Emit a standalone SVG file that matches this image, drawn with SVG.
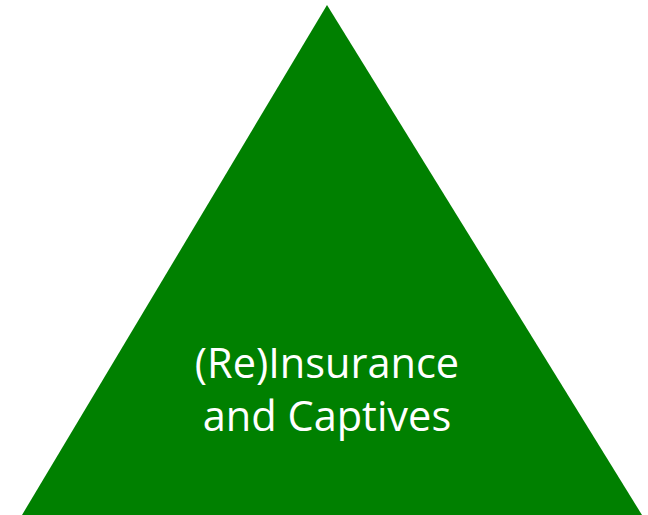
<svg xmlns="http://www.w3.org/2000/svg" width="648" height="515" viewBox="0 0 648 515">
<style>
.lbl{font-family:"Open Sans","Liberation Sans",sans-serif;font-size:41.5px;fill:#ffffff;text-anchor:middle}
</style>
<rect width="648" height="515" fill="#ffffff"/>
<g id="triangle">
<polygon points="327,5 642,515 22,515" fill="#008000"/>
<text class="lbl" x="327" y="378">(Re)Insurance</text>
<text class="lbl" x="327" y="431">and Captives</text>
</g>
</svg>
